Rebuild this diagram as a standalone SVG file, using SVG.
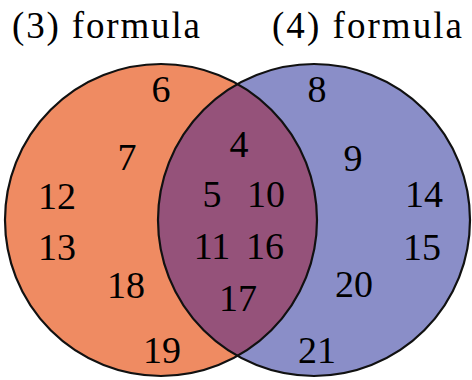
<svg xmlns="http://www.w3.org/2000/svg" width="472" height="380" viewBox="0 0 472 380">
<rect width="472" height="380" fill="#fff"/>
<g id="set3">
<circle cx="161" cy="220" r="156" fill="#EF8B62"/>
</g>
<g id="set4">
<circle cx="314" cy="220" r="156" fill="#8A8EC8"/>
</g>
<g id="both">
<path d="M237.5,84 A156,156 0 0 1 237.5,356 A156,156 0 0 1 237.5,84 Z" fill="#95527A"/>
</g>
<g id="outlines" fill="none" stroke="#111" stroke-width="2.2">
<circle cx="161" cy="220" r="156"/>
<circle cx="314" cy="220" r="156"/>
</g>
<g id="titles">
<text x="12" y="38" style="font-family:'Liberation Serif',serif;font-size:37px" textLength="188" lengthAdjust="spacing">(3) formula</text>
<text x="272" y="38" style="font-family:'Liberation Serif',serif;font-size:37px" textLength="190" lengthAdjust="spacing">(4) formula</text>
</g>
<g id="labels" text-anchor="middle">
<text x="161" y="102" style="font-family:'Liberation Serif',serif;font-size:38px">6</text>
<text x="127" y="170" style="font-family:'Liberation Serif',serif;font-size:38px">7</text>
<text x="57" y="209" style="font-family:'Liberation Serif',serif;font-size:38px">12</text>
<text x="57" y="260" style="font-family:'Liberation Serif',serif;font-size:38px">13</text>
<text x="126" y="298" style="font-family:'Liberation Serif',serif;font-size:38px">18</text>
<text x="162" y="363" style="font-family:'Liberation Serif',serif;font-size:38px">19</text>
<text x="239" y="157" style="font-family:'Liberation Serif',serif;font-size:38px">4</text>
<text x="212" y="207" style="font-family:'Liberation Serif',serif;font-size:38px">5</text>
<text x="266" y="207" style="font-family:'Liberation Serif',serif;font-size:38px">10</text>
<text x="212" y="259" style="font-family:'Liberation Serif',serif;font-size:38px">11</text>
<text x="265" y="259" style="font-family:'Liberation Serif',serif;font-size:38px">16</text>
<text x="238" y="311" style="font-family:'Liberation Serif',serif;font-size:38px">17</text>
<text x="317" y="102" style="font-family:'Liberation Serif',serif;font-size:38px">8</text>
<text x="353" y="171" style="font-family:'Liberation Serif',serif;font-size:38px">9</text>
<text x="424" y="207" style="font-family:'Liberation Serif',serif;font-size:38px">14</text>
<text x="422" y="260" style="font-family:'Liberation Serif',serif;font-size:38px">15</text>
<text x="354" y="297" style="font-family:'Liberation Serif',serif;font-size:38px">20</text>
<text x="317" y="363" style="font-family:'Liberation Serif',serif;font-size:38px">21</text>
</g>
</svg>
